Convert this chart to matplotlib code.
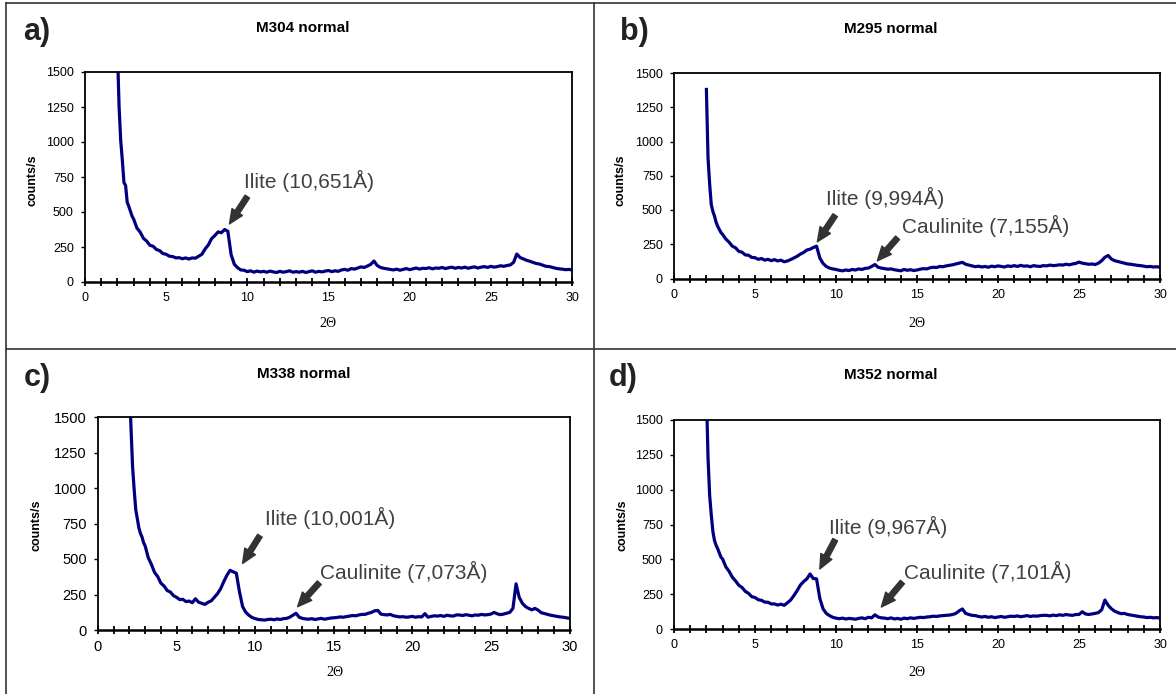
import numpy as np
import matplotlib
matplotlib.use('Agg')
import matplotlib.pyplot as plt
from matplotlib.ticker import MultipleLocator
from matplotlib.lines import Line2D

plt.rcParams['font.family'] = ['Liberation Sans', 'DejaVu Sans']

W, H = 1176, 694

# 2-theta grid: 0.1 steps on the steep low-angle part, 0.2 steps after
two_theta = np.concatenate([np.arange(2.0, 2.95, 0.1), np.arange(3.0, 30.01, 0.2)])

counts_m304 = [
    1650, 1250, 1010, 870, 710, 690, 570, 540, 505, 470,
    448, 385, 356, 312, 292, 262, 255, 232, 224, 203,
    198, 184, 182, 172, 174, 166, 172, 164, 172, 170,
    184, 198, 236, 265, 310, 332, 358, 352, 375, 362,
    196, 126, 102, 86, 84, 74, 80, 70, 78, 72,
    76, 70, 78, 72, 68, 76, 70, 74, 80, 70,
    74, 70, 76, 68, 74, 80, 70, 76, 72, 78,
    82, 74, 80, 76, 86, 90, 84, 96, 92, 100,
    108, 104, 114, 126, 150, 118, 104, 98, 94, 90,
    86, 92, 84, 90, 96, 88, 94, 100, 92, 98,
    96, 102, 94, 100, 98, 104, 96, 102, 106, 98,
    104, 100, 106, 98, 104, 108, 100, 106, 110, 104,
    112, 106, 110, 116, 112, 118, 122, 140, 200, 175,
    165, 155, 148, 140, 132, 128, 120, 112, 110, 104,
    98, 94, 92, 88, 90, 86,
]

counts_m295 = [
    1380, 880, 690, 540, 490, 455, 410, 380, 358, 335,
    322, 288, 265, 236, 224, 198, 192, 172, 170, 154,
    152, 140, 146, 134, 140, 130, 138, 128, 134, 122,
    128, 138, 150, 162, 178, 190, 208, 214, 226, 236,
    150, 110, 88, 76, 70, 66, 60, 56, 62, 58,
    66, 62, 70, 66, 74, 76, 88, 102, 82, 76,
    72, 68, 70, 64, 60, 56, 66, 60, 64, 58,
    62, 68, 72, 70, 78, 82, 80, 88, 86, 92,
    96, 100, 106, 112, 118, 104, 98, 92, 86, 90,
    84, 88, 82, 90, 86, 92, 88, 84, 92, 88,
    94, 88, 96, 90, 92, 86, 94, 90, 88, 94,
    92, 98, 94, 96, 100, 98, 104, 100, 106, 110,
    120, 112, 108, 104, 106, 102, 112, 130, 155, 168,
    142, 130, 124, 118, 112, 106, 104, 100, 96, 94,
    90, 86, 88, 84, 86, 82,
]

counts_m338 = [
    1700, 1420, 1150, 990, 850, 785, 720, 680, 655, 615,
    592, 508, 462, 405, 376, 330, 310, 278, 268, 242,
    230, 214, 216, 200, 204, 192, 220, 196, 188, 180,
    195, 205, 230, 255, 290, 340, 385, 420, 410, 400,
    270, 165, 125, 104, 88, 80, 74, 72, 70, 74,
    76, 72, 78, 74, 80, 82, 90, 104, 118, 90,
    82, 78, 76, 80, 74, 78, 82, 76, 80, 84,
    86, 88, 92, 90, 94, 98, 102, 100, 106, 110,
    110, 118, 124, 135, 138, 112, 108, 106, 110, 100,
    96, 92, 94, 90, 92, 96, 90, 94, 92, 115,
    90, 96, 100, 98, 102, 96, 104, 100, 98, 106,
    106, 102, 108, 104, 100, 106, 104, 110, 106, 108,
    112, 124, 114, 108, 112, 118, 124, 152, 325, 230,
    188, 165, 152, 142, 152, 140, 122, 116, 110, 104,
    100, 96, 92, 90, 86, 82,
]

counts_m352 = [
    1700, 1230, 960, 820, 700, 635, 600, 575, 545, 515,
    502, 446, 414, 372, 345, 314, 298, 270, 256, 232,
    226, 210, 206, 193, 192, 180, 180, 172, 178, 170,
    188, 208, 240, 275, 315, 340, 360, 395, 362, 360,
    220, 145, 112, 96, 84, 78, 74, 78, 72, 76,
    74, 70, 76, 80, 74, 84, 80, 102, 86, 80,
    78, 74, 80, 72, 76, 70, 78, 74, 80, 76,
    80, 84, 82, 86, 88, 92, 90, 94, 96, 98,
    100, 104, 112, 130, 144, 112, 104, 98, 96, 90,
    86, 90, 84, 88, 82, 86, 90, 84, 88, 92,
    90, 94, 88, 92, 96, 90, 94, 92, 96, 98,
    98, 94, 100, 96, 102, 98, 104, 100, 98, 104,
    104, 124, 108, 104, 108, 112, 118, 138, 208, 170,
    145, 128, 118, 110, 112, 104, 100, 96, 92, 88,
    86, 82, 84, 80, 82, 78,
]

panel_letters = ['a)', 'b)', 'c)', 'd)']
samples = ['M304 normal', 'M295 normal', 'M338 normal', 'M352 normal']
series = [counts_m304, counts_m295, counts_m338, counts_m352]
ilite_labels = ['Ilite (10,651Å)', 'Ilite (9,994Å)', 'Ilite (10,001Å)', 'Ilite (9,967Å)']
caulinite_labels = [None, 'Caulinite (7,155Å)', 'Caulinite (7,073Å)', 'Caulinite (7,101Å)']

# layout in pixels: axes box (left, top, right, bottom)
boxes = [(85, 72, 572, 282), (674, 73, 1160, 278.5), (98, 417, 569.5, 630), (674, 420, 1160, 629)]
letter_pos = [(23, 32), (620, 32), (24, 378), (609, 378)]
title_pos = [(303, 28), (891, 29), (304, 374), (891, 375)]
ylabel_pos = [(33, 180), (621, 180), (37, 525), (622, 525)]
xlabel_pos = [(328, 323), (917, 323), (335, 673), (917, 672)]
tick_sizes = [9, 9, 10.5, 9]
# (text x, text y, tail, head) in data units
ilite_notes = [(9.8, 725, (10.0, 610), (8.9, 415)),
               (9.4, 590, (9.95, 462), (8.85, 268)),
               (10.6, 790, (10.3, 664), (9.2, 469)),
               (9.55, 730, (9.95, 641), (9.0, 431))]
caul_notes = [None,
              (14.05, 385, (13.8, 297), (12.55, 129)),
              (14.15, 412, (14.08, 333), (12.7, 164)),
              (14.2, 408, (14.1, 337), (12.8, 158))]


def fx(x):
    return x / W


def fy(y):
    return 1 - y / H


fig = plt.figure(figsize=(W / 100, H / 100), dpi=100)

arrow_props = dict(arrowstyle='simple,head_width=0.75,head_length=0.85,tail_width=0.32',
                   fc='#333333', ec='#333333', mutation_scale=12, shrinkA=0, shrinkB=0)

for i in range(4):
    l, t, r, b = boxes[i]
    ax = fig.add_axes([fx(l), fy(b), (r - l) / W, (b - t) / H])
    ax.plot(two_theta, series[i], color='#00007f', lw=2.3)
    ax.set_xlim(0, 30)
    ax.set_ylim(0, 1500)
    ax.xaxis.set_major_locator(MultipleLocator(5))
    ax.xaxis.set_minor_locator(MultipleLocator(1))
    ax.yaxis.set_major_locator(MultipleLocator(250))
    ax.tick_params(axis='x', which='both', direction='inout', length=6, width=1.3,
                   labelsize=tick_sizes[i], pad=4.5)
    ax.tick_params(axis='y', direction='out', length=3, width=1, labelsize=tick_sizes[i], pad=5)
    for s in ax.spines.values():
        s.set_linewidth(1.3)
    ax.spines['bottom'].set_linewidth(1.8)

    tx, ty, tail, head = ilite_notes[i]
    ax.text(tx, ty, ilite_labels[i], fontsize=15, color='#404040', va='center', ha='left')
    ax.annotate('', xy=head, xytext=tail, arrowprops=arrow_props)
    if caul_notes[i] is not None:
        tx, ty, tail, head = caul_notes[i]
        ax.text(tx, ty, caulinite_labels[i], fontsize=15, color='#404040', va='center', ha='left')
        ax.annotate('', xy=head, xytext=tail, arrowprops=arrow_props)

    x, y = letter_pos[i]
    fig.text(fx(x), fy(y), panel_letters[i], fontsize=22, fontweight='bold', color='#222222',
             ha='left', va='center')
    x, y = title_pos[i]
    fig.text(fx(x), fy(y), samples[i], fontsize=11, fontweight='bold', ha='center', va='center')
    x, y = ylabel_pos[i]
    fig.text(fx(x), fy(y), 'counts/s', fontsize=9, fontweight='bold', rotation=90,
             ha='center', va='center')
    x, y = xlabel_pos[i]
    fig.text(fx(x), fy(y), '2Θ', fontsize=10, family=['Liberation Serif', 'DejaVu Serif'],
             ha='center', va='center')

# table borders around the panels
border = dict(transform=fig.transFigure, color='#333333', lw=1.2)
fig.add_artist(Line2D([fx(6), fx(1176)], [fy(3), fy(3)], **border))
fig.add_artist(Line2D([fx(6), fx(1176)], [fy(349), fy(349)], **border))
fig.add_artist(Line2D([fx(6), fx(6)], [fy(3), fy(694)], **border))
fig.add_artist(Line2D([fx(594), fx(594)], [fy(3), fy(694)], **border))

fig.savefig('out.png', dpi=100)
